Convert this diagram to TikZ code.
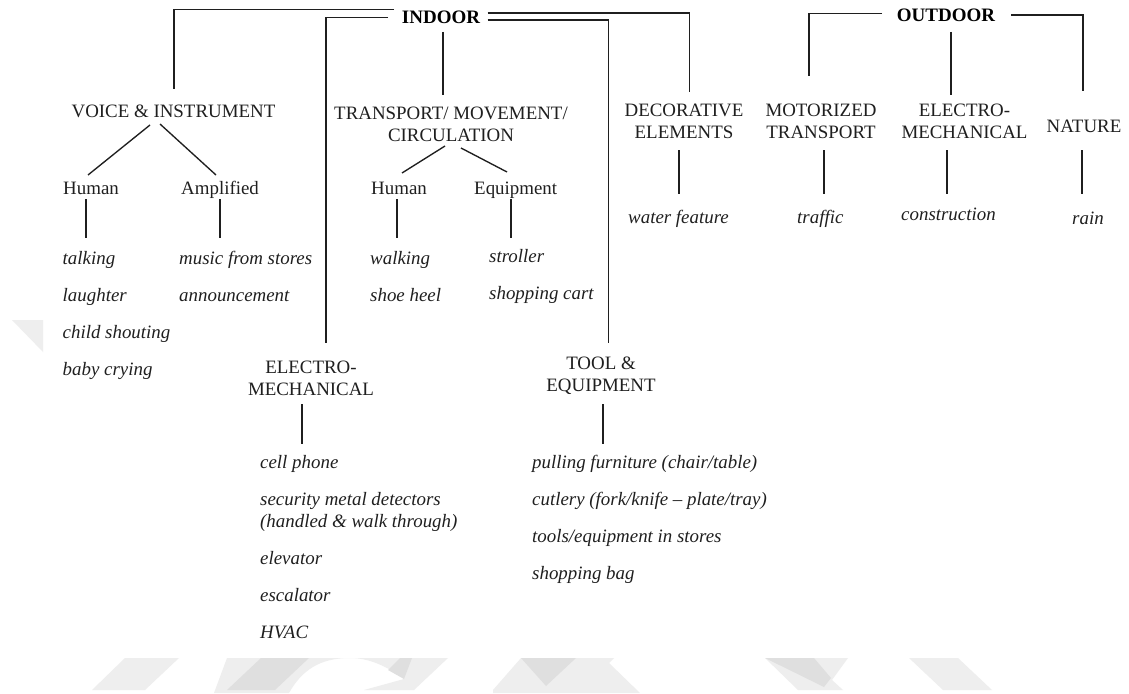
\documentclass[tikz,border=0pt]{standalone}
\usepackage{fontspec}
\usetikzlibrary{calc}
\setmainfont{Liberation Serif}
\definecolor{ink}{gray}{0.12}
\definecolor{wmlight}{gray}{0.935}
\definecolor{wmdark}{gray}{0.875}
\tikzset{
  x=1pt,y=-1pt,
  cat/.style={inner sep=0pt,align=center,font=\fontsize{18.9}{22}\selectfont,text=ink},
  sub/.style={inner sep=0pt,anchor=west,text height=13pt,text depth=0pt,font=\fontsize{18.9}{22}\selectfont,text=ink},
  item/.style={inner sep=0pt,anchor=west,text height=13pt,text depth=0pt,font=\fontsize{18.9}{22}\itshape\selectfont,text=ink},
  itemtwo/.style={inner sep=0pt,anchor=west,align=left,font=\fontsize{18.9}{22}\itshape\selectfont,text=ink},
  head/.style={inner sep=0pt,font=\fontsize{19}{22}\bfseries\selectfont,text=black},
  conn/.style={draw=ink,line width=1.35pt},
  heavy/.style={draw=ink,line width=1.7pt},
}
\begin{document}
\begin{tikzpicture}
\useasboundingbox (0,0) rectangle (1129,693);
\fill[white] (0,0) rectangle (1129,693);
% watermark
\fill[wmlight] (12,320) -- (43,320) -- (43,352) -- cycle;
\fill[wmlight] (125,658) -- (179,658) -- (145,690) -- (92,690) -- cycle;
\fill[wmlight] (227,658) -- (448,658) -- (414,690) -- (364,690) -- (404,679)
  .. controls (388,667) and (370,658) .. (350,658) .. controls (320,658) and (302,670) .. (289,693) -- (214,693) -- cycle;
\fill[wmdark] (261,658) -- (309,658) -- (275,690) -- (227,690) -- cycle;
\fill[wmdark] (400,658) -- (412,658) -- (404,679) -- (388,670) -- cycle;
\fill[wmlight] (521,658) -- (614,658) -- (609,663) -- (640,693) -- (493,693) -- (493,690) -- cycle;
\fill[wmdark] (521,658) -- (576,658) -- (546,686) -- cycle;
\fill[wmlight] (765,658) -- (848,658) -- (832,680) -- (843,690) -- (798,690) -- cycle;
\fill[wmdark] (765,658) -- (814,658) -- (831,678) -- (824,687) -- cycle;
\fill[wmlight] (909,658) -- (958,658) -- (992,690) -- (943,690) -- cycle;
% heads
\node[head] (indoor) at (441,17) {INDOOR};
\node[head] (outdoor) at (946,15) {OUTDOOR};
% categories
\node[cat] (voice) at (173.5,111) {VOICE \& INSTRUMENT};
\node[cat] (trans) at (451,124) {TRANSPORT/ MOVEMENT/\\CIRCULATION};
\node[cat] (deco) at (684,121.5) {DECORATIVE\\ELEMENTS};
\node[cat] (motor) at (821,121.5) {MOTORIZED\\TRANSPORT};
\node[cat] (emout) at (964.5,121.5) {ELECTRO-\\MECHANICAL};
\node[cat] (nature) at (1084,126) {NATURE};
\node[cat] (emin) at (311,378) {ELECTRO-\\MECHANICAL};
\node[cat] (tool) at (601,375.5) {TOOL \&\\EQUIPMENT};
% sub-categories
\node[sub] (hum1) at (63,188) {Human};
\node[sub] (amp) at (181,188) {Amplified};
\node[sub] (hum2) at (371,188) {Human};
\node[sub] (equ) at (474,188) {Equipment};
% items
\node[item] (talking) at (62.5,258) {talking};
\node[item] (laughter) at (62.5,295) {laughter};
\node[item] (child) at (62.5,332) {child shouting};
\node[item] (baby) at (62.5,369) {baby crying};
\node[item] (music) at (179,258) {music from stores};
\node[item] (announce) at (179,295) {announcement};
\node[item] (walking) at (370,258) {walking};
\node[item] (shoe) at (370,295) {shoe heel};
\node[item] (stroller) at (489,256) {stroller};
\node[item] (cart) at (489,293) {shopping cart};
\node[item] (water) at (628,217) {water feature};
\node[item] (traffic) at (797,217) {traffic};
\node[item] (constr) at (901,214) {construction};
\node[item] (rain) at (1072,218) {rain};
\node[item] (cell) at (260,462) {cell phone};
\node[itemtwo] (security) at (260,512) {security metal detectors\\(handled \& walk through)};
\node[item] (elevator) at (260,558) {elevator};
\node[item] (escalator) at (260,595) {escalator};
\node[item] (hvac) at (260,632) {HVAC};
\node[item] (pulling) at (532,462) {pulling furniture (chair/table)};
\node[item] (cutlery) at (532,499) {cutlery (fork/knife -- plate/tray)};
\node[item] (tools) at (532,536) {tools/equipment in stores};
\node[item] (bag) at (532,573) {shopping bag};
% connectors from INDOOR
\draw[heavy] ($(indoor.center)+(-47,-7.5)$) -| ($(voice.center)+(0.5,-22)$);
\draw[heavy] ($(indoor.center)+(-53,0.5)$) -| ($(emin.center)+(15,-35)$);
\draw[conn] ($(indoor.center)+(2,15)$) -- ($(trans.center)+(-8,-29)$);
\draw[heavy] ($(indoor.center)+(46.5,-4)$) -| ($(deco.center)+(5.5,-29.5)$);
\draw[heavy] ($(indoor.center)+(46.5,3)$) -| ($(tool.center)+(7.5,-32.5)$);
% connectors from OUTDOOR
\draw[heavy] ($(outdoor.center)+(-64,-1.5)$) -| ($(motor.center)+(-12,-45.5)$);
\draw[conn] ($(outdoor.center)+(5,17)$) -- ($(emout.center)+(-13.5,-26.5)$);
\draw[heavy] ($(outdoor.center)+(65,0)$) -| ($(nature.center)+(-1,-35.5)$);
% tree below VOICE
\draw[conn] ($(voice.center)+(-23.5,14)$) -- ($(hum1.west)+(25,-13)$);
\draw[conn] ($(voice.center)+(-13.5,13)$) -- ($(amp.west)+(35,-13)$);
\draw[conn] ($(hum1.west)+(23,11)$) -- ($(talking.west)+(23.5,-20)$);
\draw[conn] ($(amp.west)+(39,11)$) -- ($(music.west)+(41,-20)$);
% tree below TRANSPORT
\draw[conn] ($(trans.center)+(-6,22)$) -- ($(hum2.west)+(31,-15)$);
\draw[conn] ($(trans.center)+(10,24)$) -- ($(equ.west)+(33,-16)$);
\draw[conn] ($(hum2.west)+(26,11)$) -- ($(walking.west)+(27,-20)$);
\draw[heavy] ($(equ.west)+(37,11)$) -- ($(stroller.west)+(22,-18)$);
% single drops
\draw[conn] ($(deco.center)+(-5,28.5)$) -- ($(water.west)+(51,-23)$);
\draw[conn] ($(motor.center)+(3,28.5)$) -- ($(traffic.west)+(27,-23)$);
\draw[conn] ($(emout.center)+(-17.5,28.5)$) -- ($(constr.west)+(46,-20)$);
\draw[conn] ($(nature.center)+(-2,24)$) -- ($(rain.west)+(10,-24)$);
\draw[conn] ($(emin.center)+(-9,26)$) -- ($(cell.west)+(42,-18)$);
\draw[conn] ($(tool.center)+(2,28.5)$) -- ($(pulling.west)+(71,-18)$);
\end{tikzpicture}
\end{document}
